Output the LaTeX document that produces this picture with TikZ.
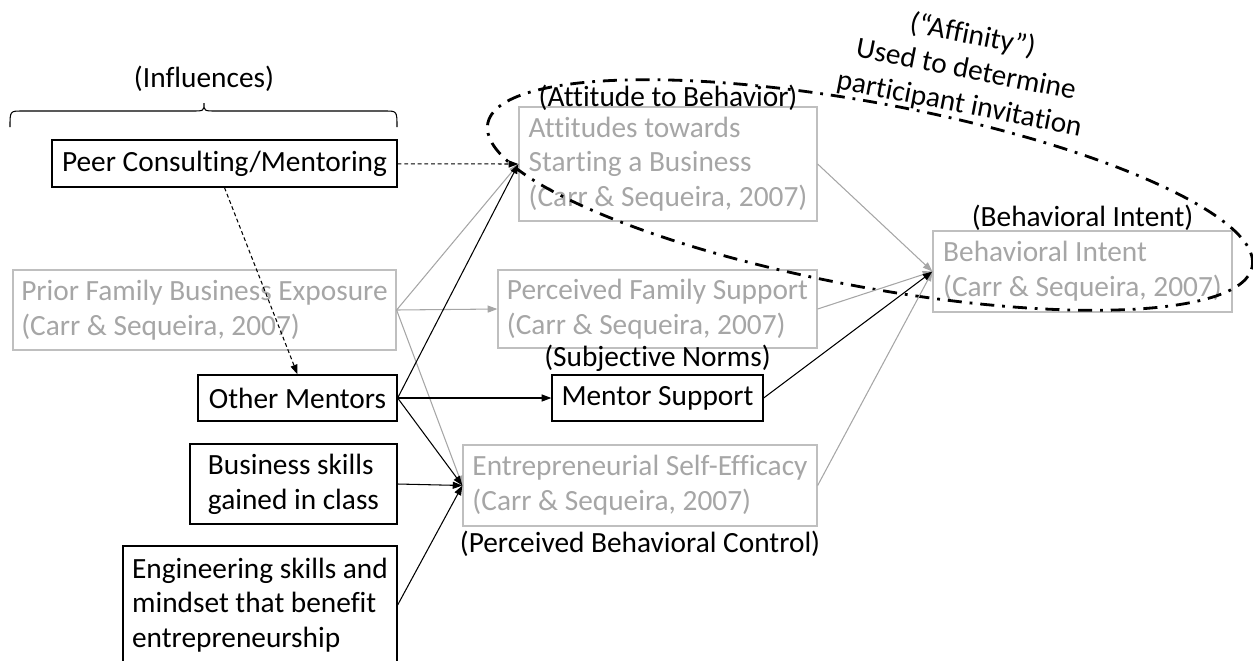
\documentclass[tikz,border=0pt]{standalone}
\usepackage{fontspec}
\setmainfont[Ligatures=NoCommon]{Carlito}
\usetikzlibrary{positioning, arrows.meta}
\definecolor{txtgray}{RGB}{166,166,166}
\definecolor{linegray}{RGB}{191,191,191}
\tikzset{
  blackbox/.style  = {draw, line width=0.75pt, align=left, inner sep=0pt},
  graybox/.style   = {draw=linegray, line width=0.75pt, text=txtgray, align=left, inner sep=0pt},
  lbl/.style       = {inner sep=0pt},
  arrow/.style     = {-{Triangle[length=5.5pt, width=4pt]}, line width=0.6pt},
  grayarrow/.style = {arrow, draw=txtgray},
  dasharrow/.style = {arrow, dash pattern=on 2.2pt off 1.6pt}
}

\begin{document}
\begin{tikzpicture}[
  x=0.02cm, y=-0.02cm,
  every node/.style={font=\fontsize{16.7}{19.8}\selectfont}
]
  \useasboundingbox (0,0) rectangle (1253,660);

  % influences
  \node[lbl, anchor=base] (infl) at (204,87) {(Influences)};
  \draw[line width=0.6pt] (10,127) .. controls (10,111) .. (22,111) -- (192,111)
    .. controls (204,111) .. (204,103) .. controls (204,111) .. (216,111) -- (385,111)
    .. controls (397,111) .. (397,127);

  \node[blackbox, align=center, minimum width=6.9cm, minimum height=0.94cm] (peer) at (224.5,163.5) {Peer Consulting/Mentoring};
  \node[graybox, minimum width=7.66cm, minimum height=1.6cm] (prior) at (204.5,310) {Prior Family Business Exposure\\(Carr \& Sequeira, 2007)};
  \node[blackbox, align=center, minimum width=3.98cm, minimum height=0.92cm] (ment) at (297.5,398) {Other Mentors};
  \node[blackbox, minimum width=4.14cm, minimum height=1.6cm] (bus) at (293.5,484) {Business skills\\gained in class};
  \node[blackbox, minimum width=5.48cm, minimum height=2.36cm] (eng) at (260,605) {Engineering skills and\\mindset that benefit\\entrepreneurship};

  % theory of planned behavior
  \node[graybox, minimum width=5.96cm, minimum height=2.28cm] (att) at (668,164) {Attitudes towards\\Starting a Business\\(Carr \& Sequeira, 2007)};
  \node[graybox, minimum width=6.38cm, minimum height=1.56cm] (pfs) at (657.5,309) {Perceived Family Support\\(Carr \& Sequeira, 2007)};
  \node[blackbox, align=center, minimum width=4.22cm, minimum height=0.92cm] (msup) at (657.5,398) {Mentor Support};
  \node[graybox, minimum width=7.08cm, minimum height=1.62cm] (ese) at (640,485.5) {Entrepreneurial Self-Efficacy\\(Carr \& Sequeira, 2007)};
  \node[graybox, minimum width=5.98cm, minimum height=1.62cm] (bi) at (1082.5,271.5) {Behavioral Intent\\(Carr \& Sequeira, 2007)};

  \node[lbl, anchor=base] (attl) at (att.north) {(Attitude to Behavior)};
  \node[lbl, anchor=base, yshift=0.16cm] (msupl) at (msup.north) {(Subjective Norms)};
  \node[lbl, anchor=base, yshift=-0.52cm] (esel) at (ese.south) {(Perceived Behavioral Control)};
  \node[lbl, anchor=base, yshift=0.08cm] (bil) at (bi.north) {(Behavioral Intent)};

  % affinity
  \draw[line width=1.6pt, dash pattern=on 8pt off 4.5pt on 1.6pt off 4.5pt, rotate around={-10.6:(870,195)}]
    (870,195) ellipse [x radius=7.78cm, y radius=1.84cm];
  \node[lbl, align=center, rotate=-11] (aff) at (966,70) {(“Affinity”)\\Used to determine\\participant invitation};

  \draw[dasharrow] (peer) -- (att.west);
  \draw[dasharrow] (peer.south) -- (ment.north);

  \draw[grayarrow] (prior.east) -- (att.west);
  \draw[grayarrow] (prior.east) -- (pfs.west);
  \draw[grayarrow] (prior.east) -- (ese.west);

  \draw[arrow] (ment.east) -- (att.west);
  \draw[arrow] (ment.east) -- (msup.west);
  \draw[arrow] (ment.east) -- (ese.west);
  \draw[arrow] (bus.east) -- (ese.west);
  \draw[arrow] (eng.east) -- (ese.west);

  \draw[grayarrow] (att.east) -- (bi.west);
  \draw[grayarrow] (pfs.east) -- (bi.west);
  \draw[grayarrow] (ese.east) -- (bi.west);
  \draw[arrow] (msup.east) -- (bi.west);
\end{tikzpicture}
\end{document}
